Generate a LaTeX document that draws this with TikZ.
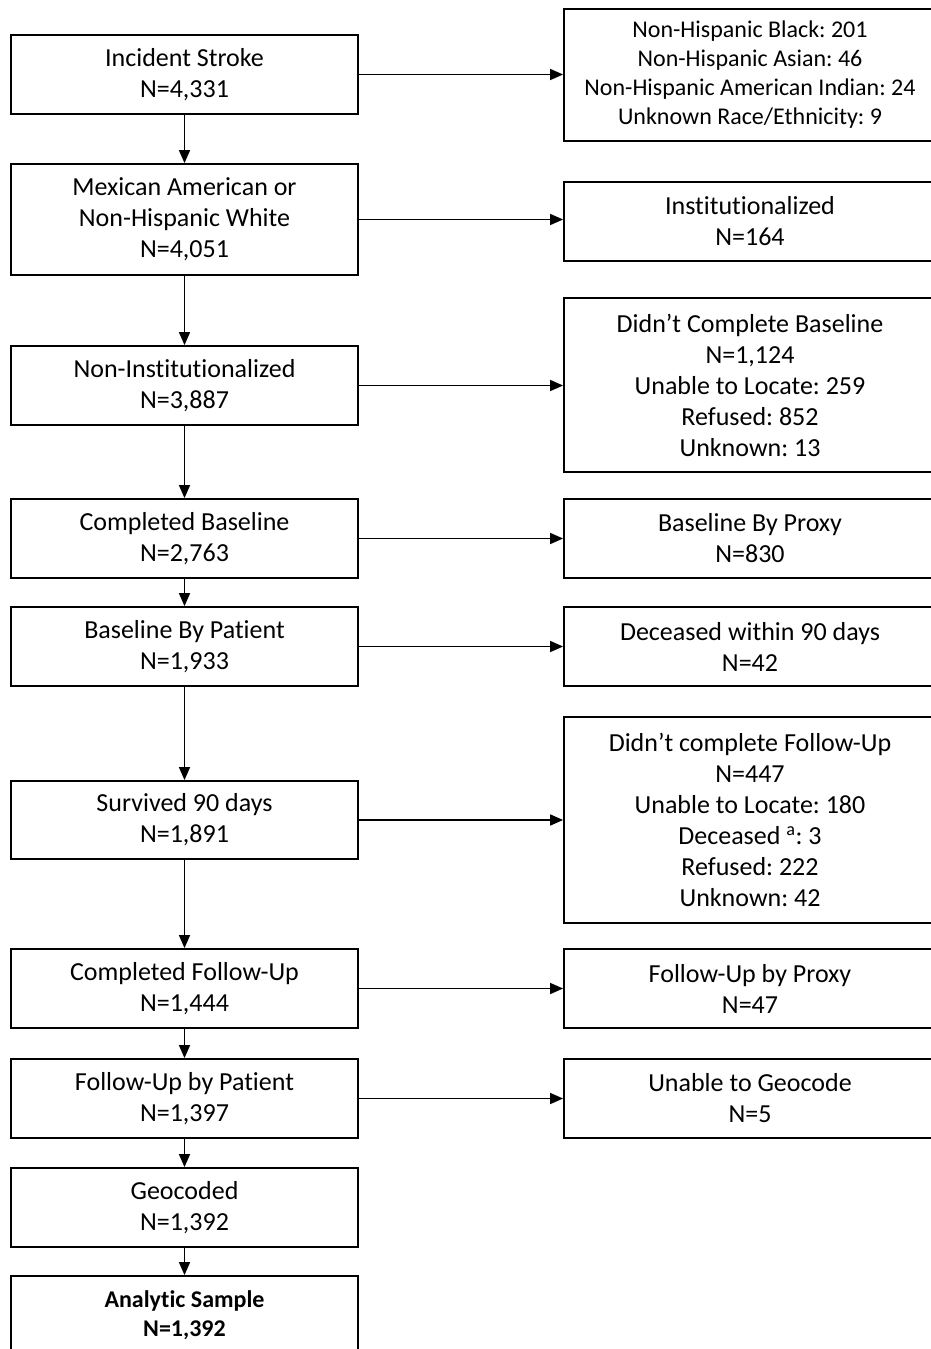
\documentclass[tikz,border=0pt]{standalone}
\usepackage{fontspec}
\setmainfont{Carlito}[Ligatures=NoCommon]
\usetikzlibrary{arrows.meta}
\begin{document}
\frenchspacing
\begin{tikzpicture}[x=1pt,y=-1pt,
  box/.style={draw=black,line width=1.8pt,fill=white,inner sep=0pt,align=center,
    font=\fontsize{26}{31}\selectfont},
  lbox/.style={box,minimum width=347pt},
  rbox/.style={box,minimum width=372pt},
  arr/.style={line width=1.5pt,-{Triangle[length=13pt,width=11pt]}}]
\path[use as bounding box] (0,0) rectangle (931,1349);
\clip (0,0) rectangle (931,1349);
% left column
\node[lbox,minimum height=79pt] (l1) at (184.5,74.5) {Incident Stroke\\N=4,331};
\node[lbox,minimum height=111pt] (l2) at (184.5,219.5) {Mexican American or\\Non-Hispanic White\\N=4,051};
\node[lbox,minimum height=79pt] (l3) at (184.5,385.5) {Non-Institutionalized\\N=3,887};
\node[lbox,minimum height=79pt] (l4) at (184.5,538.5) {Completed Baseline\\N=2,763};
\node[lbox,minimum height=79pt] (l5) at (184.5,646.5) {Baseline By Patient\\N=1,933};
\node[lbox,minimum height=78pt] (l6) at (184.5,820) {Survived 90 days\\N=1,891};
\node[lbox,minimum height=79pt] (l7) at (184.5,988.5) {Completed Follow-Up\\N=1,444};
\node[lbox,minimum height=79pt] (l8) at (184.5,1098.5) {Follow-Up by Patient\\N=1,397};
\node[lbox,minimum height=79pt] (l9) at (184.5,1207.5) {Geocoded\\N=1,392};
\node[lbox,minimum height=79pt,font=\fontsize{24}{29}\selectfont\bfseries] (l10) at (184.5,1315.5) {Analytic Sample\\N=1,392};
% right column
\node[rbox,minimum height=132pt,font=\fontsize{24}{29}\selectfont] (r1) at (750,75) {Non-Hispanic Black: 201\\Non-Hispanic Asian: 46\\Non-Hispanic American Indian: 24\\Unknown Race/Ethnicity: 9};
\node[rbox,minimum height=79pt] (r2) at (750,221.5) {Institutionalized\\N=164};
\node[rbox,minimum height=174pt] (r3) at (750,385) {Didn’t Complete Baseline\\N=1,124\\Unable to Locate: 259\\Refused: 852\\Unknown: 13};
\node[rbox,minimum height=79pt] (r4) at (750,538.5) {Baseline By Proxy\\N=830};
\node[rbox,minimum height=79pt] (r5) at (750,646.5) {Deceased within 90 days\\N=42};
\node[rbox,minimum height=206pt] (r6) at (750,820) {Didn’t complete Follow-Up\\N=447\\Unable to Locate: 180\\Deceased \textsuperscript{a}: 3\\Refused: 222\\Unknown: 42};
\node[rbox,minimum height=79pt] (r7) at (750,988.5) {Follow-Up by Proxy\\N=47};
\node[rbox,minimum height=79pt] (r8) at (750,1098.5) {Unable to Geocode\\N=5};
% vertical arrows
\foreach \a/\b in {l1/l2,l2/l3,l3/l4,l4/l5,l5/l6,l6/l7,l7/l8,l8/l9,l9/l10}
  \draw[arr] (\a.south) -- (\b.north);
% horizontal arrows
\foreach \a/\b in {l1/r1,l2/r2,l3/r3,l4/r4,l5/r5,l6/r6,l7/r7,l8/r8}
  \draw[arr] (\a.east) -- (\a.east -| \b.west);
\end{tikzpicture}
\end{document}
